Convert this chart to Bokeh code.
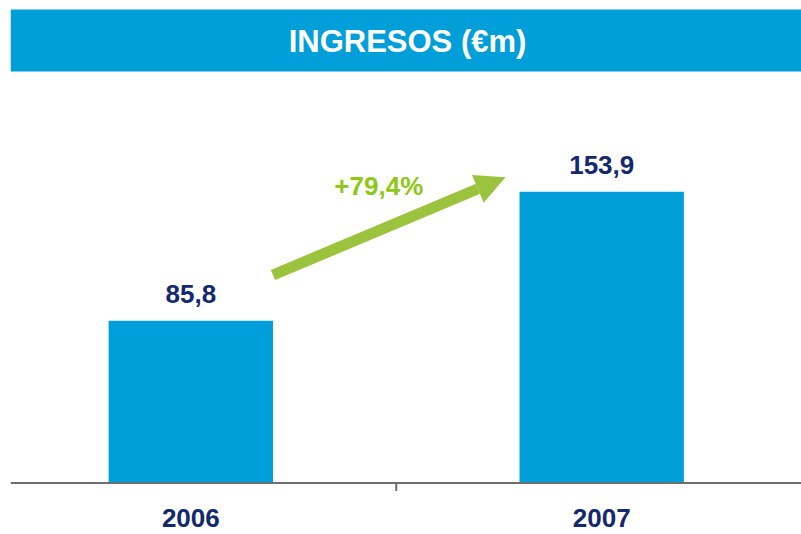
import math
from bokeh.plotting import figure
from bokeh.models import Range1d, BoxAnnotation, Span, Arrow, NormalHead
from bokeh.core.properties import value
from bokeh.embed import file_html
from bokeh.resources import INLINE

# ---- data ----
years = ["2006", "2007"]
revenue = [85.8, 153.9]
title_text = "INGRESOS (€m)"

# ---- style ----
BLUE = "#009FDA"
NAVY = "#14286E"
ARROW_GREEN = "#9BC33D"
TEXT_GREEN = "#8CC814"
AXIS_GRAY = "#6E6E6E"
FONT = value("Liberation Sans")

W, H = 801, 534
LEFT_BORDER = 10

# pixel geometry (picture coordinates) used to build the scales
PX_PER_CAT = 410.9          # px between category centres
FIRST_CENTER_X = 190.3
BASELINE_Y = 482.5
PX_PER_UNIT = 1.892
SHIFT_31 = 11   # baseline rendering correction (px)
SHIFT_26 = 10

frame_w = W - LEFT_BORDER
x0 = 1 - (FIRST_CENTER_X - LEFT_BORDER) / PX_PER_CAT
x1 = x0 + frame_w / PX_PER_CAT
y1 = BASELINE_Y / PX_PER_UNIT
y0 = -(H - BASELINE_Y) / PX_PER_UNIT


def dx(px):
    return x0 + (px - LEFT_BORDER) / PX_PER_CAT


def dy(py):
    return (BASELINE_Y - py) / PX_PER_UNIT


xs = [i + 1 for i in range(len(years))]
bar_w = 0.4
labels = [f"{v:.1f}".replace(".", ",") for v in revenue]
growth = (revenue[1] / revenue[0] - 1) * 100
growth_label = "+" + f"{growth:.1f}".replace(".", ",") + "%"

p = figure(width=W, height=H, output_backend="svg", toolbar_location=None,
           x_range=Range1d(x0, x1), y_range=Range1d(y0, y1),
           x_axis_location=None, y_axis_location=None,
           min_border=0, min_border_left=LEFT_BORDER,
           outline_line_color=None,
           background_fill_color="white", border_fill_color="white")
p.xgrid.visible = False
p.ygrid.visible = False

# title bar
p.add_layout(BoxAnnotation(top=dy(9), bottom=dy(71), fill_color=BLUE, fill_alpha=1,
                           line_color=None, level="underlay"))
p.text(x=[dx(407)], y=[dy(51.5)], y_offset=-SHIFT_31, text=[title_text],
       text_align="center", text_baseline="alphabetic", text_color="white",
       text_font=FONT, text_font_style="bold", text_font_size="31px")

# bars
p.vbar(x=xs, top=revenue, bottom=0, width=bar_w, fill_color=BLUE, line_color=None)

# axis line and middle tick
p.add_layout(Span(location=0, dimension="width", line_color=AXIS_GRAY, line_width=2))
p.ray(x=[1.5], y=[0], length=8, length_units="screen", angle=-math.pi / 2,
      line_color=AXIS_GRAY, line_width=2)

# value labels
p.text(x=xs, y=revenue, text=labels, y_offset=-17 - SHIFT_26, text_align="center",
       text_baseline="alphabetic", text_color=NAVY, text_font=FONT,
       text_font_style="bold", text_font_size="26px")

# category labels
p.text(x=xs, y=[0] * len(xs), text=years, y_offset=45 - SHIFT_26, text_align="center",
       text_baseline="alphabetic", text_color=NAVY, text_font=FONT,
       text_font_style="bold", text_font_size="26px")

# growth arrow
p.add_layout(Arrow(end=NormalHead(size=30, fill_color=ARROW_GREEN, line_color=None),
                   x_start=xs[0] + bar_w / 2, y_start=dy(274.5),
                   x_end=dx(505), y_end=dy(176.7),
                   line_color=ARROW_GREEN, line_width=11))
p.text(x=[dx(378.3)], y=[dy(195)], y_offset=-SHIFT_26, text=[growth_label],
       text_align="center", text_baseline="alphabetic", text_color=TEXT_GREEN,
       text_font=FONT, text_font_style="bold", text_font_size="26px")

open("out.html", "w").write(file_html(p, INLINE))
